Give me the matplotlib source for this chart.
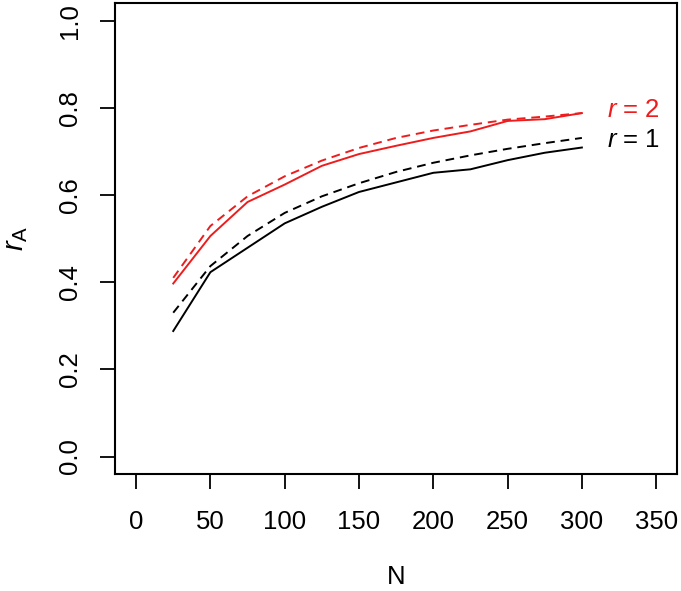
import matplotlib
matplotlib.use("Agg")
import matplotlib.pyplot as plt

plt.rcParams['font.family'] = ['Liberation Sans', 'DejaVu Sans']
plt.rcParams['mathtext.fontset'] = 'custom'
plt.rcParams['mathtext.rm'] = 'Liberation Sans'
plt.rcParams['mathtext.it'] = 'Liberation Sans:italic'

# sample sizes
N = [25, 50, 75, 100, 125, 150, 175, 200, 225, 250, 275, 300]

# r = 1 (black)
r1_solid = [0.288, 0.423, 0.479, 0.535, 0.573, 0.607, 0.629, 0.651, 0.659, 0.680, 0.697, 0.709]
r1_dashed = [0.330, 0.437, 0.506, 0.559, 0.597, 0.627, 0.653, 0.674, 0.691, 0.706, 0.719, 0.731]

# r = 2 (red)
r2_solid = [0.397, 0.506, 0.584, 0.624, 0.667, 0.694, 0.713, 0.731, 0.746, 0.770, 0.774, 0.788]
r2_dashed = [0.410, 0.529, 0.597, 0.643, 0.679, 0.708, 0.731, 0.748, 0.761, 0.773, 0.780, 0.788]

xticks = [0, 50, 100, 150, 200, 250, 300, 350]
yticks = [0.0, 0.2, 0.4, 0.6, 0.8, 1.0]

red = '#ee1c1c'
dash = (0, (4.5, 3))

fig = plt.figure(figsize=(6.81, 5.91), dpi=100)
ax = fig.add_axes([0.1693, 0.198, 0.8248, 0.7965])

ax.plot(N, r1_solid, color='black', lw=1.4)
ax.plot(N, r1_dashed, color='black', lw=1.4, linestyle=dash)
ax.plot(N, r2_solid, color=red, lw=1.4)
ax.plot(N, r2_dashed, color=red, lw=1.4, linestyle=dash)

ax.text(317, 0.795, r'$r$ = 2', color=red, fontsize=18.5, va='center', ha='left')
ax.text(317, 0.727, r'$r$ = 1', color='black', fontsize=18.5, va='center', ha='left')

ax.set_xlim(-14, 364)
ax.set_ylim(-0.04, 1.04)
ax.set_xticks(xticks)
ax.set_yticks(yticks)
ax.set_xticklabels([str(x) for x in xticks])
ax.set_yticklabels(['%.1f' % y for y in yticks], rotation=90, va='center')
ax.tick_params(axis='both', length=11, width=1.3, labelsize=18.5, direction='out')
ax.tick_params(axis='x', pad=15)
ax.tick_params(axis='y', pad=13)
for s in ax.spines.values():
    s.set_linewidth(1.5)

ax.set_xlabel('N', fontsize=18.5, labelpad=22)
ax.set_ylabel(r'$r_{\mathrm{A}}$', fontsize=21, labelpad=20)

fig.savefig('out.png', dpi=100)
